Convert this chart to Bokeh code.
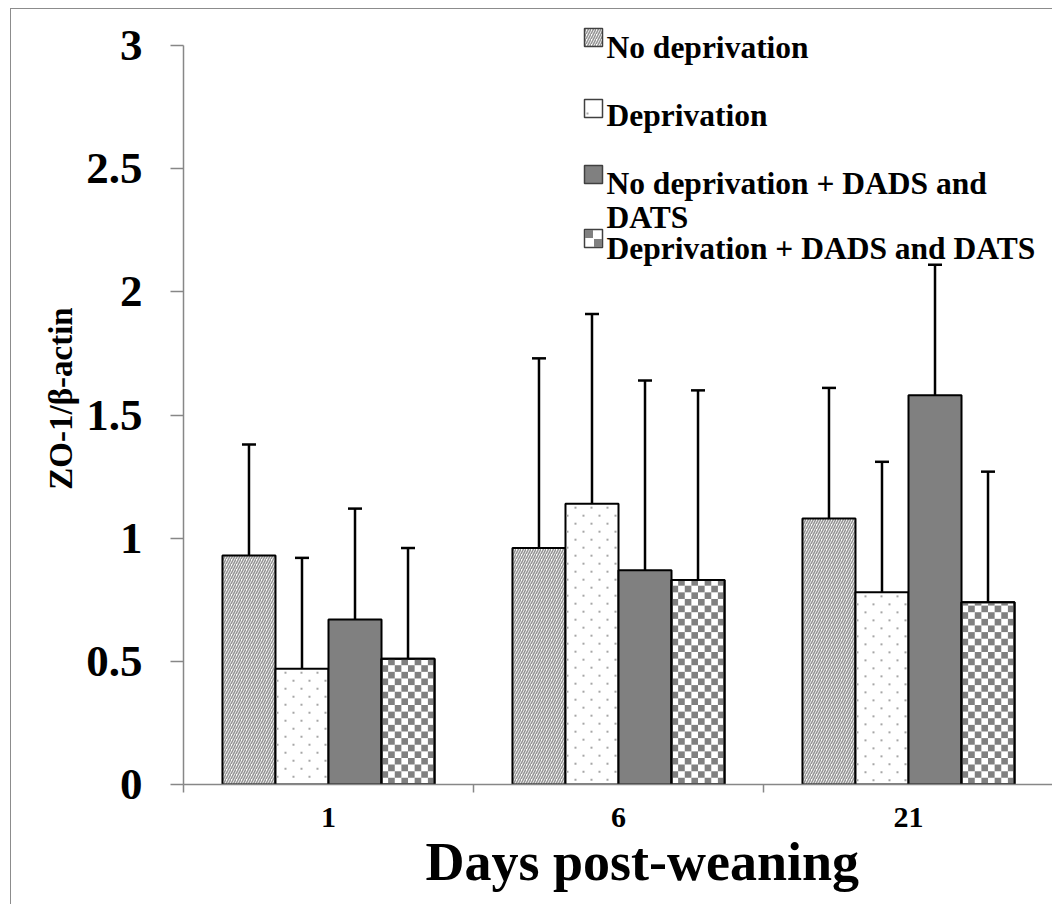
import math

from bokeh.core.properties import value
from bokeh.embed import file_html
from bokeh.models import ColumnDataSource, FixedTicker, Range1d, TeeHead, Title, Whisker
from bokeh.plotting import figure
from bokeh.resources import INLINE

# ---- data -----------------------------------------------------------------
days = ["1", "6", "21"]
series = ["No deprivation", "Deprivation",
          "No deprivation + DADS and DATS", "Deprivation + DADS and DATS"]
legend_text = ["No deprivation", "Deprivation",
               "No deprivation + DADS and\nDATS", "Deprivation + DADS and DATS"]

no_dep = [0.93, 0.96, 1.08]
dep = [0.47, 1.14, 0.78]
no_dep_dads = [0.67, 0.87, 1.58]
dep_dads = [0.51, 0.83, 0.74]

no_dep_err = [0.45, 0.77, 0.53]
dep_err = [0.45, 0.77, 0.53]
no_dep_dads_err = [0.45, 0.77, 0.53]
dep_dads_err = [0.45, 0.77, 0.53]

y_ticks = [0, 0.5, 1, 1.5, 2, 2.5, 3]
y_tick_labels = ["0", "0.5", "1", "1.5", "2", "2.5", "3"]

# ---- layout (page pixels) -------------------------------------------------
PAGE_W, PAGE_H = 1053, 905
OX, OY = 11, 9                   # canvas origin on the page (margin + border)
W, H = PAGE_W - OX, PAGE_H - OY
LEFT, RIGHT, TOP, BOTTOM = 183, 1053, 12, 784   # plot frame on the page
Y_AXIS_TOP_PX = 45                               # page row of the "3" tick
Y_MAX = 3 * (BOTTOM - TOP) / (BOTTOM - Y_AXIS_TOP_PX)
X_PX = (RIGHT - LEFT) / 3                        # pixels per x unit
Y_PX = (BOTTOM - Y_AXIS_TOP_PX) / 3              # pixels per y unit
BAR_W = 0.1828
FONT = "Liberation Serif"
GREY = "#808080"
DOT_GREY = "#a6a6a6"


def px_x(px):
    return (px - LEFT) / X_PX


def px_y(py):
    return (BOTTOM - py) / Y_PX


def checker_cells(xc, top, ncols=8):
    """Grey cells of a checkerboard filling the bar centred at xc."""
    cw = BAR_W / ncols
    ch = cw * X_PX / Y_PX
    left0 = xc - BAR_W / 2
    out = dict(left=[], right=[], bottom=[], top=[])
    for j in range(math.ceil(top / ch)):
        b = j * ch
        t = min(b + ch, top)
        for i in range(ncols):
            if (i + j) % 2 == 1:
                out["left"].append(left0 + i * cw)
                out["right"].append(left0 + (i + 1) * cw)
                out["bottom"].append(b)
                out["top"].append(t)
    return out


def dot_grid(xc, top):
    """Staggered pin-dot fill for the bar centred at xc."""
    width_px = BAR_W * X_PX
    left0 = xc - BAR_W / 2
    xs, ys = [], []
    r = 0
    while True:
        dy = 4 + 8 * r
        if dy > top * Y_PX - 2:
            break
        dx = 10 if r % 2 == 0 else 2
        while dx < width_px - 2:
            xs.append(left0 + dx / X_PX)
            ys.append(top - dy / Y_PX)
            dx += 16
        r += 1
    return xs, ys


styles = [
    dict(fill_color="white", hatch_pattern="/", hatch_color="#969696",
         hatch_scale=5, hatch_weight=1.6),
    dict(fill_color="white"),
    dict(fill_color=GREY),
    dict(fill_color="white"),
]

values = [no_dep, dep, no_dep_dads, dep_dads]
errors = [no_dep_err, dep_err, no_dep_dads_err, dep_dads_err]

p = figure(width=W, height=H, output_backend="svg", toolbar_location=None,
           x_range=Range1d(0, 3), y_range=Range1d(0, Y_MAX),
           min_border_left=LEFT - OX, min_border_right=PAGE_W - RIGHT,
           min_border_top=TOP - OY, min_border_bottom=PAGE_H - BOTTOM)
p.outline_line_color = None
p.grid.visible = False
p.background_fill_color = "white"
p.border_fill_color = "white"
# thin grey frame around the whole chart
p.styles = {
    "margin-left": "10px",
    "margin-top": "8px",
    "border-left": "1px solid #8c8c8c",
    "border-top": "1px solid #8c8c8c",
}

# ---- bars and upper error whiskers -----------------------------------------
centers = [i + 0.5 for i in range(len(days))]
for k, (name, vals, errs, st) in enumerate(zip(series, values, errors, styles)):
    offset = (k - 1.5) * BAR_W
    xs = [c + offset for c in centers]
    src = ColumnDataSource(dict(x=xs, top=vals, hi=[v + e for v, e in zip(vals, errs)]))
    p.vbar(x="x", top="top", width=BAR_W, source=src, line_color="black",
           line_width=2, **st)
    if k == 1:
        dx, dy = [], []
        for xc, v in zip(xs, vals):
            a, b = dot_grid(xc, v)
            dx += a
            dy += b
        p.scatter(dx, dy, marker="square", size=2, fill_color=DOT_GREY,
                  line_color=None)
    if k == 3:
        cells = dict(left=[], right=[], bottom=[], top=[])
        for xc, v in zip(xs, vals):
            for key, arr in checker_cells(xc, v).items():
                cells[key] += arr
        p.quad(source=ColumnDataSource(cells), fill_color=GREY, line_color=None)
        p.vbar(x="x", top="top", width=BAR_W, source=src, fill_color=None,
               line_color="black", line_width=2)
    p.add_layout(Whisker(source=src, base="x", lower="top", upper="hi",
                         lower_head=None,
                         upper_head=TeeHead(size=14, line_width=2.5, line_color="black"),
                         line_width=2.5, line_color="black"))

# ---- legend ---------------------------------------------------------------
SW = 18
sw_x = px_x(593)
swatch_px = [37, 108, 174, 238]
baseline_px = [47, 115, 183, 248]
line_gap = 34
for k, (label, st) in enumerate(zip(legend_text, styles)):
    sy = swatch_px[k]
    p.rect(x=[sw_x], y=[px_y(sy)], width=SW, height=SW,
           width_units="screen", height_units="screen",
           line_color="#404040", line_width=1.5, **st)
    if k == 1:
        p.scatter([px_x(587)], [px_y(sy + 5)], marker="square", size=2,
                  fill_color=DOT_GREY, line_color=None)
    if k == 3:
        p.rect(x=[px_x(593 - SW / 4), px_x(593 + SW / 4)],
               y=[px_y(sy - SW / 4), px_y(sy + SW / 4)],
               width=SW / 2 - 1, height=SW / 2 - 1,
               width_units="screen", height_units="screen",
               fill_color=GREY, line_color=None)
    lines = label.split("\n")
    p.text(x=[px_x(606)] * len(lines),
           y=[px_y(baseline_px[k] + i * line_gap) for i in range(len(lines))],
           text=lines, text_font=value(FONT), text_font_style="bold",
           text_font_size="31.5px", text_color="black",
           text_baseline="alphabetic", text_align="left")

# ---- axes -----------------------------------------------------------------
AXIS_GREY = "#878787"
for ax in (p.xaxis[0], p.yaxis[0]):
    ax.axis_line_color = AXIS_GREY
    ax.axis_line_width = 1.5
    ax.major_tick_line_color = AXIS_GREY
    ax.major_tick_line_width = 1.5
    ax.minor_tick_line_color = AXIS_GREY
    ax.minor_tick_line_width = 1.5
    ax.major_label_text_font = FONT
    ax.major_label_text_font_style = "bold"
    ax.major_label_text_color = "black"
    ax.axis_label_text_font = FONT
    ax.axis_label_text_font_style = "bold"
    ax.axis_label_text_color = "black"
    ax.bounds = (0, 3)

xa = p.xaxis[0]
xa.ticker = FixedTicker(ticks=centers, minor_ticks=[0, 1, 2, 3])
xa.major_label_overrides = {c: d for c, d in zip(centers, days)}
xa.major_tick_in = 0
xa.major_tick_out = 0
xa.minor_tick_in = 0
xa.minor_tick_out = 8
xa.major_label_text_font_size = "30px"
xa.major_label_standoff = 15

# x-axis title, starting 242 px right of the frame's left edge
p.add_layout(Title(text="Days post-weaning", align="left", offset=242,
                   text_font=FONT, text_font_style="bold",
                   text_font_size="54px", text_color="black", standoff=0),
             "below")

ya = p.yaxis[0]
ya.ticker = FixedTicker(ticks=y_ticks, minor_ticks=[])
ya.major_label_overrides = {t: s for t, s in zip(y_ticks, y_tick_labels)}
ya.major_tick_in = 0
ya.major_tick_out = 13
ya.major_label_text_font_size = "45px"
ya.major_label_standoff = 28
ya.axis_label = "ZO-1/β-actin"
ya.axis_label_text_font_size = "33px"
ya.axis_label_standoff = 4

open("out.html", "w").write(file_html(p, INLINE))
